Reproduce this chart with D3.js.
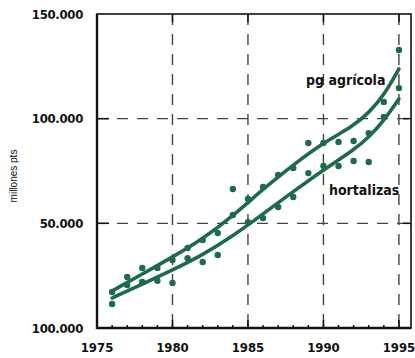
<!DOCTYPE html>
<html>
<head>
<meta charset="utf-8">
<script src="https://cdn.jsdelivr.net/npm/d3@7"></script>
<style>
  html, body { margin: 0; padding: 0; background: #fff; }
  svg { display: block; }
  .lbl { font-family: "Liberation Sans Narrow", "DejaVu Sans Condensed", "Arial Narrow", sans-serif; font-weight: bold; }
</style>
</head>
<body>
<svg id="chart" width="415" height="358"></svg>
<script>
// Years of observation
const years = [1976,1977,1978,1979,1980,1981,1982,1983,1984,1985,1986,1987,1988,1989,1990,1991,1992,1993,1994,1995];
// Observed values, pesetas
const pgAgricola = [17200,24400,28700,28700,32500,38200,42000,45400,66400,61600,67400,73100,76400,88400,88400,88900,89300,93100,108000,132800];
const hortalizas = [11500,20500,22000,22600,21500,33400,31500,34900,54000,50600,52500,57800,62600,74000,77400,77400,79800,79300,100800,114600];
// Smoothed trend curves
const trendYears = [1976,1978,1980,1982,1984,1986,1988,1990,1992,1993,1994,1995];
const pgTrend = [17700,25800,33900,42500,53500,66400,78000,88600,96500,102800,111000,123800];
const hoTrend = [14300,21000,27700,34900,43900,54500,65200,75500,85000,91000,99000,109500];
// Axis ticks
const yTicks = [0,50000,100000,150000];
const yTickLabels = ["100.000","50.000","100.000","150.000"];
const xTicks = [1975,1980,1985,1990,1995];
const xTickLabels = ["1975","1980","1985","1990","1995"];
const minorYears = d3.range(1976,1996);

const svg = d3.select("#chart");
const m = {left: 97, right: 4, top: 14, bottom: 30};
const W = 415, H = 358;
const x = d3.scaleLinear().domain([1975, 1995.8]).range([m.left, W - m.right]);
const y = d3.scaleLinear().domain([0, 150000]).range([H - m.bottom, m.top]);

const green = "#1e6b4c";
const x0 = x.range()[0], x1 = x.range()[1], y0 = y.range()[0], y1 = y.range()[1];

// Dashed grid
const grid = svg.append("g").attr("stroke", "#444").attr("stroke-width", 1.4).attr("stroke-dasharray", "11,9");
grid.selectAll("line.v").data(xTicks.slice(1)).join("line")
  .attr("x1", d => x(d)).attr("x2", d => x(d)).attr("y1", y1).attr("y2", y0);
grid.selectAll("line.h").data(yTicks.slice(1, 3)).join("line")
  .attr("x1", x0).attr("x2", x1).attr("y1", d => y(d)).attr("y2", d => y(d));

// Inner ticks on the frame
const ticks = svg.append("g").attr("stroke", "#111").attr("stroke-width", 1.5);
ticks.selectAll("line.b").data(xTicks.slice(1)).join("line")
  .attr("x1", d => x(d)).attr("x2", d => x(d)).attr("y1", y0).attr("y2", y0 - 8);
ticks.selectAll("line.bm").data(minorYears).join("line")
  .attr("x1", d => x(d)).attr("x2", d => x(d)).attr("y1", y0).attr("y2", y0 - 3);
ticks.selectAll("line.t").data(xTicks.slice(1)).join("line")
  .attr("x1", d => x(d)).attr("x2", d => x(d)).attr("y1", y1).attr("y2", y1 + 8);
ticks.selectAll("line.l").data(yTicks.slice(1, 3)).join("line")
  .attr("x1", x0).attr("x2", x0 + 12).attr("y1", d => y(d)).attr("y2", d => y(d));
ticks.selectAll("line.r").data(yTicks.slice(1, 3)).join("line")
  .attr("x1", x1).attr("x2", x1 - 8).attr("y1", d => y(d)).attr("y2", d => y(d));

// Frame
svg.append("rect").attr("x", x0).attr("y", y1).attr("width", x1 - x0).attr("height", y0 - y1)
  .attr("fill", "none").attr("stroke", "#111").attr("stroke-width", 1.6);
svg.append("line").attr("x1", x0).attr("x2", x0).attr("y1", y1).attr("y2", y0 + 1)
  .attr("stroke", "#111").attr("stroke-width", 2.4);
svg.append("line").attr("x1", x0).attr("x2", x1).attr("y1", y0).attr("y2", y0)
  .attr("stroke", "#111").attr("stroke-width", 2.4);

// Trend curves
const line = d3.line().x(d => x(d[0])).y(d => y(d[1])).curve(d3.curveBasis);
[pgTrend, hoTrend].forEach(t => {
  svg.append("path").attr("d", line(trendYears.map((yr, i) => [yr, t[i]])))
    .attr("fill", "none").attr("stroke", green).attr("stroke-width", 3.6).attr("stroke-linecap", "round");
});

// Observations
[pgAgricola, hortalizas].forEach(s => {
  svg.append("g").selectAll("circle").data(years.map((yr, i) => [yr, s[i]])).join("circle")
    .attr("cx", d => x(d[0])).attr("cy", d => y(d[1])).attr("r", 3.2).attr("fill", green);
});

// Tick labels
svg.append("g").selectAll("text").data(yTicks).join("text")
  .attr("class", "lbl").attr("x", 83).attr("y", d => y(d)).attr("dy", "0.35em")
  .attr("text-anchor", "end").attr("font-size", 13).attr("fill", "#111")
  .attr("letter-spacing", "-0.3")
  .text((d, i) => yTickLabels[i]);
svg.append("g").selectAll("text").data(xTicks).join("text")
  .attr("class", "lbl").attr("x", d => x(d)).attr("y", 352)
  .attr("text-anchor", "middle").attr("font-size", 13).attr("fill", "#111")
  .text((d, i) => xTickLabels[i]);

// Axis title
svg.append("text").attr("transform", "translate(17,176) rotate(-90)")
  .attr("text-anchor", "middle").attr("font-family", "Liberation Sans, Arial, sans-serif")
  .attr("font-size", 10).attr("fill", "#111").text("millones pts");

// Series labels
svg.append("text").attr("class", "lbl").attr("x", 306).attr("y", 85)
  .attr("font-size", 14).attr("fill", "#111").text("pg agrícola");
svg.append("text").attr("class", "lbl").attr("x", 329).attr("y", 195)
  .attr("font-size", 14).attr("fill", "#111").text("hortalizas");
</script>
</body>
</html>
